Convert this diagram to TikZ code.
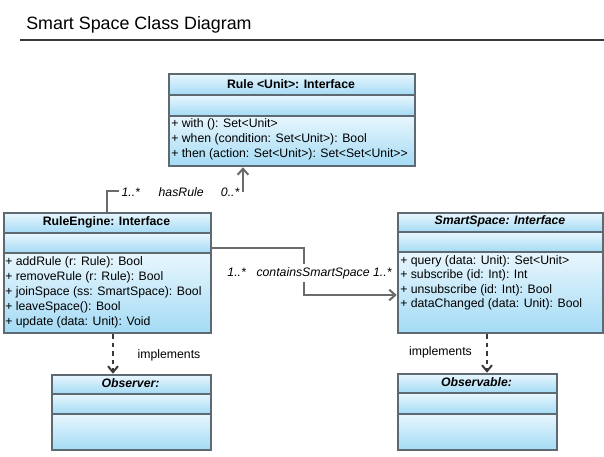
\documentclass[tikz,border=0pt]{standalone}
\usepackage{fontspec}
\setmainfont{Liberation Sans}
\usetikzlibrary{arrows.meta,fit}
\definecolor{bordc}{HTML}{5E6A72}
\definecolor{linec}{HTML}{6B6B6B}
\definecolor{dashc}{HTML}{3A3A3A}
\definecolor{topc}{HTML}{E8F6FD}
\definecolor{botc}{HTML}{A4DBF5}
\newcommand\compbox[5]{\node[comp, anchor=north west, minimum width={(#4-#2)*0.75pt}, minimum height={(#5-#3)*0.75pt}] (#1) at (#2,#3) {};}
\begin{document}
\begin{tikzpicture}[x=0.75pt,y=-0.75pt,
  comp/.style={rectangle, draw=bordc, line width=1.5pt, top color=topc, bottom color=botc, inner sep=0pt},
  hdr/.style={font=\fontsize{9.2pt}{11pt}\selectfont\bfseries, inner sep=0pt},
  hdri/.style={font=\fontsize{9.2pt}{11pt}\selectfont\bfseries\itshape, inner sep=0pt},
  meth/.style={font=\fontsize{9.2pt}{#1}\selectfont, inner sep=0pt, align=left, anchor=north west},
  lbl/.style={font=\fontsize{9.2pt}{11pt}\selectfont\itshape, fill=white, inner xsep=2pt, inner ysep=2.5pt},
  impltext/.style={font=\fontsize{9.2pt}{11pt}\selectfont, inner sep=0pt},
  conn/.style={draw=linec, line width=1.5pt, -{Straight Barb[length=4.5pt,width=8pt]}},
  impl/.style={draw=dashc, line width=1.5pt, dash pattern=on 3.4pt off 3pt, -{Straight Barb[length=4.5pt,width=7.5pt]}}]
\useasboundingbox (0,0) rectangle (604,457);
% title
\node[anchor=base west, font=\fontsize{13.4pt}{16pt}\selectfont, inner sep=0pt] (title) at (26,29) {Smart Space Class Diagram};
\coordinate (tl) at (20,40);
\coordinate (tr) at (604,40);
\draw[line width=0.9pt, color=dashc] (tl) -- (tr);
% Rule
\compbox{ruleH}{168}{73}{414}{94}
\compbox{ruleA}{168}{94}{414}{115}
\compbox{ruleM}{168}{115}{414}{165}
\node[fit=(ruleH)(ruleM), inner sep=0pt] (rule) {};
\node[hdr] (ruleT) at (291,84) {Rule <Unit>: Interface};
\node[meth=11.25pt] (ruleL) at (171,118) {+ with (): Set<Unit>\\+ when (condition: Set<Unit>): Bool\\+ then (action: Set<Unit>): Set<Set<Unit>{}>};
% RuleEngine
\compbox{reH}{3}{212}{210}{232}
\compbox{reA}{3}{232}{210}{252}
\compbox{reM}{3}{252}{210}{332}
\node[fit=(reH)(reM), inner sep=0pt] (re) {};
\node[hdr] (reT) at (106.5,222) {RuleEngine: Interface};
\node[meth=11.4pt] (reL) at (5,256) {+ addRule (r: Rule): Bool\\+ removeRule (r: Rule): Bool\\+ joinSpace (ss: SmartSpace): Bool\\+ leaveSpace(): Bool\\+ update (data: Unit): Void};
% SmartSpace
\compbox{ssH}{397}{212}{602}{231}
\compbox{ssA}{397}{231}{602}{251}
\compbox{ssM}{397}{251}{602}{332}
\node[fit=(ssH)(ssM), inner sep=0pt] (ss) {};
\node[hdri] (ssT) at (500,221.5) {SmartSpace: Interface};
\node[meth=10.9pt] (ssL) at (400,255) {+ query (data: Unit): Set<Unit>\\+ subscribe (id: Int): Int\\+ unsubscribe (id: Int): Bool\\+ dataChanged (data: Unit): Bool};
% Observer
\compbox{obH}{51}{374}{210}{393}
\compbox{obA}{51}{393}{210}{413}
\compbox{obM}{51}{413}{210}{449}
\node[fit=(obH)(obM), inner sep=0pt] (ob) {};
\node[hdri] (obT) at (130.5,383.5) {Observer:};
% Observable
\compbox{oaH}{397}{373}{556}{392}
\compbox{oaA}{397}{392}{556}{413}
\compbox{oaM}{397}{413}{556}{449}
\node[fit=(oaH)(oaM), inner sep=0pt] (oa) {};
\node[hdri] (oaT) at (476.5,382.5) {Observable:};
% hasRule
\coordinate (hrA) at (107,191);
\coordinate (hrB) at (243,191);
\draw[conn] (re.north -| hrA) -- (hrA) -- (hrB) -- (rule.south -| hrB);
\node[lbl] (hrL) at (180.5,192) {1..*\hspace{14pt}hasRule\hspace{13pt}0..*};
% containsSmartSpace
\coordinate (csA) at (304,248);
\coordinate (csB) at (304,295);
\draw[conn] (csA -| re.east) -- (csA) -- (csB) -- (csB -| ss.west);
\node[lbl] (csL) at (309.5,273) {1..*\hspace{8pt}containsSmartSpace 1..*};
% implements
\coordinate (iL) at (113,0);
\coordinate (iR) at (487,0);
\draw[impl] (re.south -| iL) -- (ob.north -| iL);
\draw[impl] (ss.south -| iR) -- (oa.north -| iR);
\node[impltext] (iLt) at (169,355) {implements};
\node[impltext] (iRt) at (440.5,352) {implements};
\end{tikzpicture}
\end{document}
